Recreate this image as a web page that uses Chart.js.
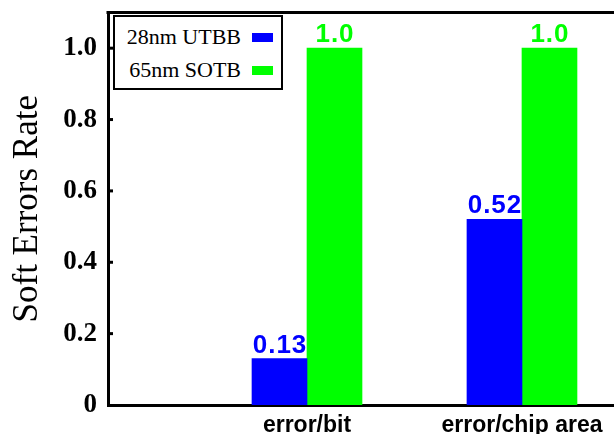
<!DOCTYPE html>
<html><head><meta charset="utf-8">
<script src="https://cdn.jsdelivr.net/npm/chart.js@4.4.0/dist/chart.umd.min.js"></script>
<style>
html,body{margin:0;padding:0;background:#fff;}
#wrap{position:relative;width:614px;height:434px;overflow:hidden;}
canvas{display:block;}
#legend{position:absolute;left:113px;top:15px;width:170px;height:75px;box-sizing:border-box;border:2px solid #000;background:#fff;font-family:"Liberation Serif","Times New Roman",serif;font-size:22px;}
.lt{position:absolute;right:40px;line-height:22px;white-space:nowrap;color:#000;}
.ls{position:absolute;left:137px;width:21px;height:9px;}
</style></head><body>
<div id="wrap"><canvas id="c" width="614" height="434"></canvas><div id="legend"></div></div>
<script>
const categories = ['error/bit', 'error/chip area'];
const seriesNames = ['28nm UTBB', '65nm SOTB'];
const utbbValues = [0.13, 0.52];
const sotbValues = [1.0, 1.0];
const utbbLabels = ['0.13', '0.52'];
const sotbLabels = ['1.0', '1.0'];
const yTickValues = [0, 0.2, 0.4, 0.6, 0.8, 1.0];
const yTickLabels = ['0', '0.2', '0.4', '0.6', '0.8', '1.0'];

const colors = ['#0000ff', '#00ff00'];
const seriesValues = [utbbValues, sotbValues];
const seriesLabels = [utbbLabels, sotbLabels];

const datasets = seriesNames.map((name, s) => ({
  label: name,
  data: categories.map((c, i) => ({ x: i + 1, y: seriesValues[s][i] })),
  backgroundColor: colors[s],
  borderWidth: 0,
  barThickness: 55,
  valueLabels: seriesLabels[s]
}));

const serif = '"Liberation Serif", "Times New Roman", serif';
const sans = '"Liberation Sans", Arial, sans-serif';

const framePlugin = {
  id: 'frame',
  afterDraw(chart) {
    const { ctx, chartArea: a, scales: { y } } = chart;
    ctx.save();
    ctx.strokeStyle = '#000';
    ctx.lineWidth = 3;
    ctx.beginPath();
    ctx.moveTo(a.left - 1.5, a.top);
    ctx.lineTo(a.right, a.top);
    ctx.stroke();
    y.ticks.forEach(t => {
      if (t.value === 0) return;
      const py = y.getPixelForValue(t.value);
      ctx.beginPath();
      ctx.moveTo(a.left, py);
      ctx.lineTo(a.left + 5, py);
      ctx.stroke();
    });
    ctx.restore();
  }
};

const valueLabelPlugin = {
  id: 'valueLabels',
  afterDatasetsDraw(chart) {
    const ctx = chart.ctx;
    ctx.save();
    ctx.font = 'bold 26px ' + sans;
    ctx.letterSpacing = '1px';
    ctx.textAlign = 'center';
    ctx.textBaseline = 'alphabetic';
    chart.data.datasets.forEach((ds, di) => {
      const meta = chart.getDatasetMeta(di);
      meta.data.forEach((bar, i) => {
        ctx.fillStyle = ds.backgroundColor;
        ctx.fillText(ds.valueLabels[i], bar.x + 0.5, bar.y - 6);
      });
    });
    ctx.restore();
  }
};

const chart = new Chart(document.getElementById('c'), {
  type: 'bar',
  data: { datasets },
  options: {
    responsive: false,
    animation: false,
    layout: { padding: { top: 12.5, right: 0, bottom: 0, left: 0 } },
    plugins: { legend: { display: false }, tooltip: { enabled: false } },
    scales: {
      x: {
        type: 'linear',
        offset: false,
        min: 0.0744,
        max: 2.428,
        grid: { display: false, drawTicks: false },
        border: { display: true, color: '#000', width: 3 },
        afterBuildTicks: s => { s.ticks = categories.map((c, i) => ({ value: i + 1 })); },
        afterFit: s => { s.height = 29; s.paddingLeft = 0; s.paddingRight = 0; },
        ticks: {
          callback: (v, i) => categories[i],
          font: { family: sans, size: 23, weight: 'bold' },
          color: '#000',
          padding: 7,
          maxRotation: 0,
          autoSkip: false
        }
      },
      y: {
        min: 0,
        max: 1.1,
        afterBuildTicks: s => { s.ticks = yTickValues.map(v => ({ value: v })); },
        afterFit: s => { s.width = 108; s.paddingTop = 0; s.paddingBottom = 0; },
        grid: { display: false, drawTicks: false },
        border: { display: true, color: '#000', width: 3 },
        ticks: {
          callback: (v, i) => yTickLabels[i],
          font: { family: serif, size: 27, weight: 'bold' },
          color: '#000',
          padding: 11
        },
        title: {
          display: true,
          text: 'Soft Errors Rate',
          font: { family: serif, size: 35 },
          color: '#000',
          padding: { top: 7, bottom: 0 }
        }
      }
    }
  },
  plugins: [framePlugin, valueLabelPlugin]
});

// HTML legend built from the chart's datasets
const legend = document.getElementById('legend');
const textTops = [8.6, 41.6];
const swatchTops = [15.5, 48.5];
chart.data.datasets.forEach((ds, i) => {
  const t = document.createElement('span');
  t.className = 'lt';
  t.style.top = textTops[i] + 'px';
  t.textContent = ds.label;
  legend.appendChild(t);
  const sw = document.createElement('span');
  sw.className = 'ls';
  sw.style.top = swatchTops[i] + 'px';
  sw.style.background = ds.backgroundColor;
  legend.appendChild(sw);
});
</script>
</body></html>
